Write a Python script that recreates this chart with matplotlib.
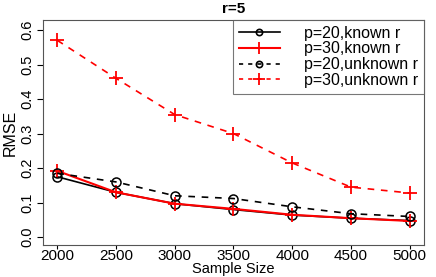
import matplotlib
matplotlib.use("Agg")
import matplotlib.pyplot as plt
from matplotlib.lines import Line2D

plt.rcParams['font.family'] = ['Liberation Sans', 'DejaVu Sans']

sizes = [2000, 2500, 3000, 3500, 4000, 4500, 5000]
p20_known = [0.175, 0.130, 0.097, 0.080, 0.064, 0.055, 0.048]
p30_known = [0.192, 0.130, 0.097, 0.082, 0.065, 0.055, 0.047]
p20_unknown = [0.185, 0.160, 0.120, 0.112, 0.088, 0.068, 0.060]
p30_unknown = [0.570, 0.460, 0.355, 0.300, 0.215, 0.145, 0.128]
labels = ["p=20,known r", "p=30,known r", "p=20,unknown r", "p=30,unknown r"]
yticks = [0.0, 0.1, 0.2, 0.3, 0.4, 0.5, 0.6]

fig = plt.figure(figsize=(4.36, 2.77), dpi=100)
ax = fig.add_axes([0.099, 0.115, 0.873, 0.813])

ms = 6.5
ax.plot(sizes, p20_known, color='black', lw=1.2, marker='o', mfc='none', ms=ms, mew=1.1)
ax.plot(sizes, p30_known, color='red', lw=1.5, marker='+', ms=10, mew=1.3)
ax.plot(sizes, p20_unknown, color='black', lw=1.2, ls=(0, (4, 4)), marker='o', mfc='none', ms=ms, mew=1.1)
ax.plot(sizes, p30_unknown, color='red', lw=1.2, ls=(0, (4, 4)), marker='+', ms=10, mew=1.3)

ax.set_xlim(1880, 5120)
ax.set_ylim(-0.023, 0.629)
ax.set_xticks(sizes)
ax.set_xticklabels([str(s) for s in sizes], fontsize=11)
ax.set_yticks(yticks)
ax.set_yticklabels([f"{v:.1f}" for v in yticks], fontsize=10.5, rotation=90, va='center')
ax.tick_params(axis='x', direction='out', length=3, width=0.8, pad=0)
ax.tick_params(axis='y', direction='out', length=4, width=0.8, pad=2)
for s in ax.spines.values():
    s.set_color('#555555')
    s.set_linewidth(0.8)

fig.text(0.5 * (0.099 + 0.972), 0.003, "Sample Size", fontsize=10.5, ha='center', va='bottom')
ax.set_ylabel("RMSE", fontsize=11.5, labelpad=2)
ax.set_title("r=5", fontsize=11, fontweight='bold', pad=5)

handles = [
    Line2D([], [], color='black', lw=1.2, marker='o', mfc='none', ms=4.5, mew=1.2),
    Line2D([], [], color='red', lw=1.5, marker='+', ms=9, mew=1.3),
    Line2D([], [], color='black', lw=1.2, ls=(0, (2.5, 3)), marker='o', mfc='none', ms=4.5, mew=1.2),
    Line2D([], [], color='red', lw=1.2, ls=(0, (2.5, 3)), marker='+', ms=9, mew=1.3),
]
leg = ax.legend(handles, labels, loc='upper right', fontsize=11.5, frameon=True,
                fancybox=False, borderaxespad=0, handlelength=2.6, handletextpad=1.5,
                labelspacing=0.05, borderpad=0.35)
leg.get_frame().set_edgecolor('#555555')
leg.get_frame().set_linewidth(0.8)

fig.savefig("out.png", dpi=100)
